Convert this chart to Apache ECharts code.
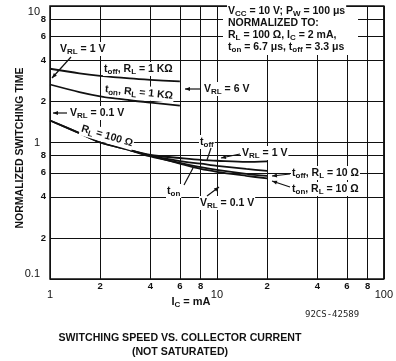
<!DOCTYPE html>
<html lang="en">
<head>
<meta charset="UTF-8">
<title>Switching speed vs. collector current</title>
<script src="https://cdn.jsdelivr.net/npm/echarts@6.0.0/dist/echarts.min.js"></script>
<style>
  html, body { margin: 0; padding: 0; background: #fff; }
  #chart { width: 396px; height: 361px; }
</style>
</head>
<body>
<div id="chart"></div>
<script>
// collector current (mA) and normalized switching time
const icA = [1, 1.5, 2, 3, 4, 6];
const toff1k = [3.47, 3.21, 3.08, 2.95, 2.88, 2.80];
const ton1k = [2.66, 2.34, 2.18, 2.04, 1.96, 1.86];

const icB = [1, 1.5, 2, 3, 4, 6, 8, 10, 15, 20];
const toff100 = [1.45, 1.17, 1.0, 0.88, 0.81, 0.77, 0.745, 0.735, 0.72, 0.727];
const ton100 = [1.45, 1.17, 1.0, 0.88, 0.80, 0.73, 0.70, 0.675, 0.64, 0.62];

const icC = [3, 4, 6, 8, 10, 15, 20];
const toff10 = [0.88, 0.79, 0.71, 0.66, 0.63, 0.59, 0.57];
const icD = [4, 6, 8, 10, 15, 20];
const ton10 = [0.80, 0.70, 0.64, 0.61, 0.57, 0.545];

// minor grid lines and their labels
const xGrid = [2, 4, 6, 8, 20, 40, 60, 80];
const xGridLabels = ['2', '4', '6', '8', '2', '4', '6', '8'];
const yGrid = [0.2, 0.4, 0.6, 0.8, 2, 4, 6, 8];
const yGridLabels = ['2', '4', '6', '8', '2', '4', '6', '8'];

const FONT = '"Liberation Sans", Arial, sans-serif';
const INK = '#111';

const chart = echarts.init(document.getElementById('chart'));

function curve(name, xs, ys) {
    return {
        name: name,
        type: 'line',
        data: xs.map((x, i) => [x, ys[i]]),
        smooth: 0.3,
        symbol: 'none',
        lineStyle: { color: INK, width: 1.8 },
        z: 3
    };
}

const gridLine = { color: INK, width: 1, type: 'solid' };

const vLines = {
    type: 'line', data: [], silent: true,
    markLine: {
        silent: true, symbol: ['none', 'none'], animation: false,
        lineStyle: gridLine,
        label: { position: 'start', distance: 2, formatter: '{b}', color: INK, fontFamily: FONT, fontWeight: 'bold', fontSize: 9.5 },
        data: xGrid.map((x, i) => [{ name: xGridLabels[i], coord: [x, 0.1] }, { coord: [x, 10] }])
    }
};
const hLines = {
    type: 'line', data: [], silent: true,
    markLine: {
        silent: true, symbol: ['none', 'none'], animation: false,
        lineStyle: gridLine,
        label: { position: 'start', distance: 4, formatter: '{b}', color: INK, fontFamily: FONT, fontWeight: 'bold', fontSize: 9.5 },
        data: yGrid.map((y, i) => [{ name: yGridLabels[i], coord: [1, y] }, { coord: [100, y] }])
    }
};

// text helpers
const rich = {
    s: { font: 'bold 8px ' + FONT, padding: [6, 0, 0, 0] }
};

function note(text, x, y, opt) {
    opt = opt || {};
    return {
        type: 'text', z: 105, x: x, y: y, rotation: opt.rot || 0,
        style: {
            text: text,
            font: (opt.font || 'bold 10.5px ') + FONT,
            fill: INK,
            align: opt.align || 'left',
            verticalAlign: 'middle',
            backgroundColor: opt.bg === false ? 'transparent' : '#fff',
            padding: [0, 1],
            rich: rich
        }
    };
}

function arrow(x1, y1, x2, y2, head) {
    const els = [{ type: 'line', z: 110, shape: { x1: x1, y1: y1, x2: x2, y2: y2 }, style: { stroke: INK, lineWidth: 1.2 } }];
    if (head) {
        const a = Math.atan2(y2 - y1, x2 - x1), L = 5, W = 2;
        const bx = x2 - L * Math.cos(a), by = y2 - L * Math.sin(a);
        els.push({
            type: 'polygon', z: 110,
            shape: { points: [[x2, y2], [bx - W * Math.sin(a), by + W * Math.cos(a)], [bx + W * Math.sin(a), by - W * Math.cos(a)]] },
            style: { fill: INK }
        });
    }
    return els;
}

const graphics = [
    // conditions box
    { type: 'rect', z: 100, shape: { x: 223, y: 7, width: 135, height: 48 }, style: { fill: '#fff' } },
    note('V{s|CC} = 10 V; P{s|W} = 100 μs', 227, 11),
    note('NORMALIZED TO:', 227, 23),
    note('R{s|L} = 100 Ω, I{s|C} = 2 mA,', 227, 35),
    note('t{s|on} = 6.7 μs, t{s|off} = 3.3 μs', 227, 47),

    note('V{s|RL} = 1 V', 59, 49),
    note('t{s|off}, R{s|L} = 1 KΩ', 103, 69),
    note('t{s|on}, R{s|L} = 1 KΩ', 104, 89, { rot: -0.1 }),
    note('V{s|RL} = 6 V', 203, 89),
    note('V{s|RL} = 0.1 V', 69, 113),
    note('R{s|L} = 100 Ω', 107, 136, { align: 'center', rot: -0.29 }),
    note('t{s|off}', 199, 142),
    note('V{s|RL} = 1 V', 241, 153),
    note('t{s|on}', 166, 191),
    note('V{s|RL} = 0.1 V', 199, 203),
    note('t{s|off}, R{s|L} = 10 Ω', 291, 173),
    note('t{s|on}, R{s|L} = 10 Ω', 291, 189),

    ...arrow(71, 57, 52, 78, true),
    ...arrow(201, 89, 185, 89, true),
    ...arrow(67, 113, 53, 113, true),
    ...arrow(211, 148, 207, 160, false),
    ...arrow(240, 154, 221, 158, true),
    ...arrow(184, 185, 193, 168, false),
    ...arrow(207, 196, 219, 187, true),
    ...arrow(290, 174, 272, 176, true),
    ...arrow(290, 187, 272, 181, true),

    // axis names, title, figure code
    note('NORMALIZED SWITCHING TIME', 20, 148, { align: 'center', rot: Math.PI / 2, font: 'bold 10.5px ', bg: false }),
    note('I{s|C} = mA', 191, 302, { align: 'center', font: 'bold 11px ', bg: false }),
    note('SWITCHING SPEED VS. COLLECTOR CURRENT', 180, 338, { align: 'center', font: 'bold 10.6px ', bg: false }),
    note('(NOT SATURATED)', 180, 352, { align: 'center', font: 'bold 10.6px ', bg: false }),
    {
        type: 'text', z: 105, x: 305, y: 315,
        style: { text: '92CS-42589', font: '9px "DejaVu Sans Mono", monospace', fill: '#222', verticalAlign: 'middle' }
    }
];

chart.setOption({
    animation: false,
    grid: { left: 50, top: 6, width: 336, height: 273, show: true, borderColor: INK, borderWidth: 1.5, backgroundColor: '#fff' },
    xAxis: {
        type: 'log', logBase: 10, min: 1, max: 100,
        axisLine: { show: false }, axisTick: { show: false },
        splitLine: { show: true, lineStyle: gridLine },
        axisLabel: { margin: 10, color: INK, fontFamily: FONT, fontSize: 11 }
    },
    yAxis: {
        type: 'log', logBase: 10, min: 0.1, max: 10,
        axisLine: { show: false }, axisTick: { show: false },
        splitLine: { show: true, lineStyle: gridLine },
        axisLabel: {
            margin: 10, color: INK, fontFamily: FONT, fontSize: 11,
            verticalAlignMinLabel: 'bottom', verticalAlignMaxLabel: 'top'
        }
    },
    series: [
        vLines,
        hLines,
        curve('toff, RL = 1 K', icA, toff1k),
        curve('ton, RL = 1 K', icA, ton1k),
        curve('toff, RL = 100', icB, toff100),
        curve('ton, RL = 100', icB, ton100),
        curve('toff, RL = 10', icC, toff10),
        curve('ton, RL = 10', icD, ton10)
    ],
    graphic: graphics
});
</script>
</body>
</html>
